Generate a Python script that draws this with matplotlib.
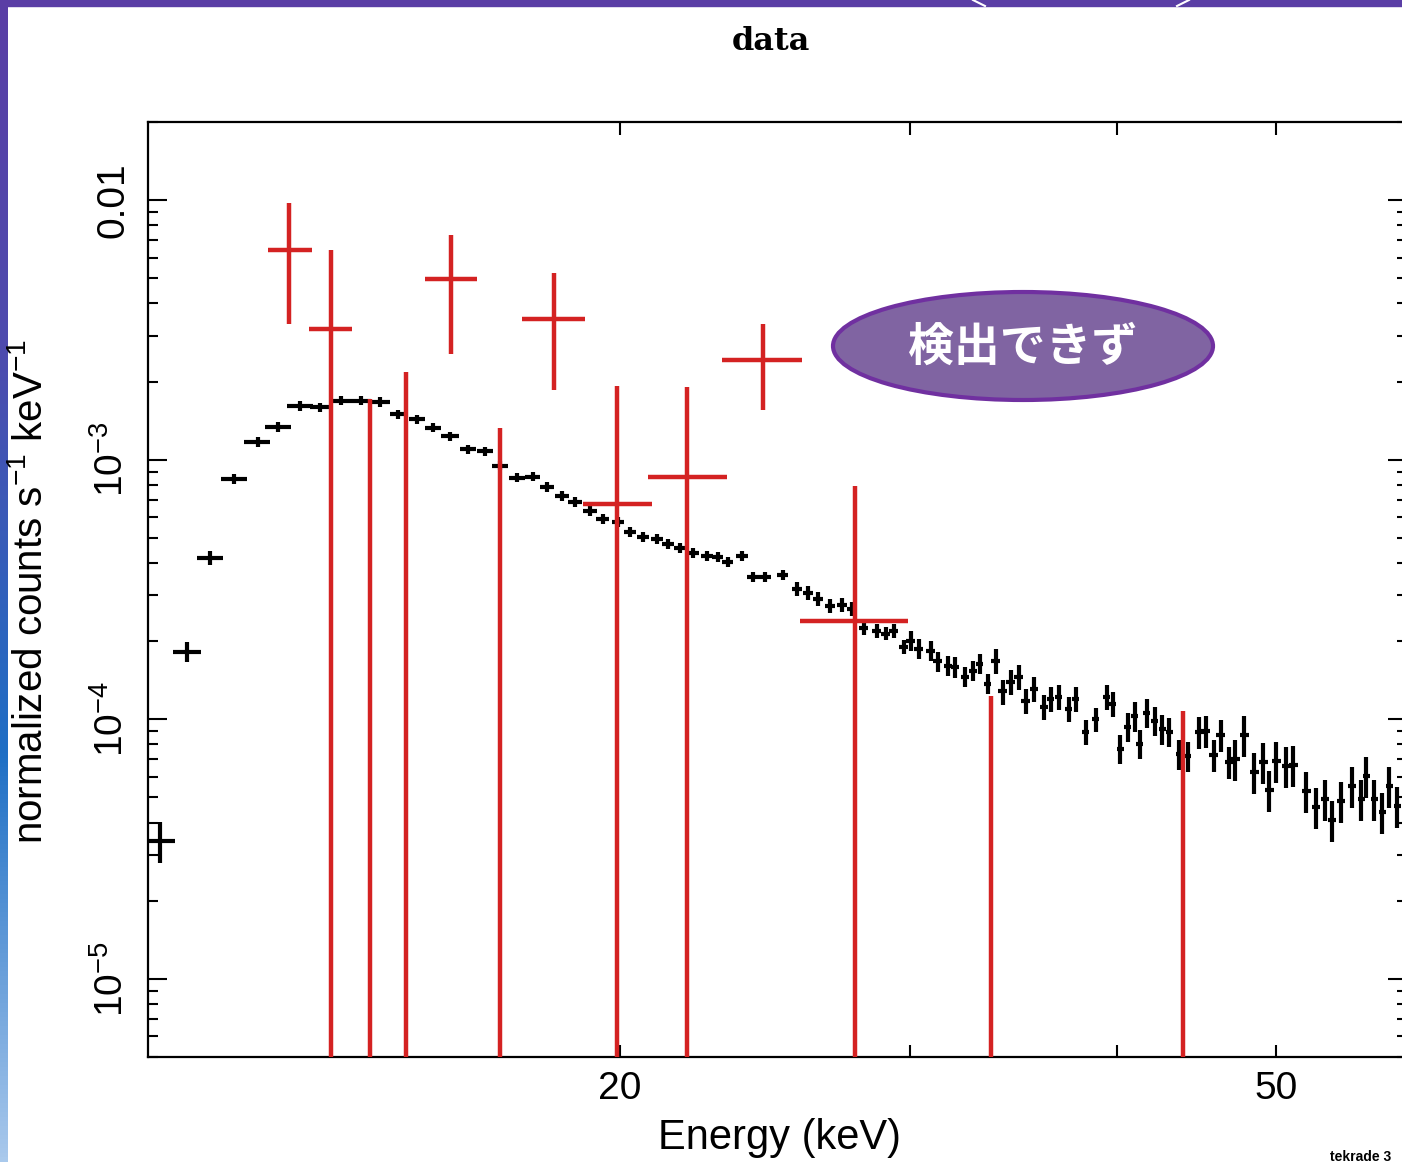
import numpy as np
import matplotlib
matplotlib.use("Agg")
import matplotlib.pyplot as plt
from matplotlib.patches import Ellipse, Rectangle
from matplotlib.lines import Line2D
from matplotlib.colors import LinearSegmentedColormap
from matplotlib.ticker import FixedLocator, FixedFormatter, LogLocator, NullLocator, NullFormatter

plt.rcParams['font.family'] = ['Liberation Sans', 'Noto Sans CJK JP', 'DejaVu Sans']
plt.rcParams['mathtext.fontset'] = 'custom'
plt.rcParams['mathtext.rm'] = 'Liberation Sans'
plt.rcParams['mathtext.default'] = 'rm'

# --- black spectrum (keV, normalized counts s^-1 keV^-1) ---
e_black = np.array([
    10.53, 10.93, 11.29, 11.67, 12.06, 12.41, 12.80, 13.16, 13.55, 13.94,
    14.31, 14.67, 15.07, 15.41, 15.78, 16.18, 16.57, 16.92, 17.32, 17.71,
    18.06, 18.45, 18.78, 19.18, 19.53, 19.94, 20.28, 20.65, 21.06, 21.38,
    21.75, 22.14, 22.58, 22.93, 23.25, 23.71, 24.08, 24.48, 25.10,
    25.60, 26.00, 26.36, 26.81, 27.26, 27.64, 28.11, 28.62, 28.98, 29.31,
    29.72, 30.01, 30.35, 30.86, 31.16, 31.60, 31.91, 32.36, 32.72, 33.04,
    33.41, 33.79, 34.12, 34.50, 34.89, 35.23, 35.63, 36.13, 36.48, 36.89,
    37.41, 37.78, 38.31, 38.85, 39.45, 39.78, 40.22, 40.62, 41.02, 41.31,
    41.71, 42.18, 42.65, 43.07, 43.67, 44.17, 44.91, 45.29, 45.80, 46.25,
    46.83, 47.22, 47.82, 48.49, 49.10, 49.52, 50.00, 50.71, 51.20, 52.14,
    52.87, 53.54, 54.06, 54.75, 55.59, 56.30, 56.69, 57.32, 57.97, 58.54,
    59.19])
c_black = np.array([
    3.40e-5, 1.82e-4, 4.19e-4, 8.45e-4, 1.17e-3, 1.34e-3, 1.61e-3, 1.59e-3, 1.69e-3, 1.69e-3,
    1.67e-3, 1.50e-3, 1.43e-3, 1.33e-3, 1.23e-3, 1.10e-3, 1.08e-3, 9.48e-4, 8.52e-4, 8.60e-4,
    7.87e-4, 7.27e-4, 6.89e-4, 6.36e-4, 5.92e-4, 5.77e-4, 5.28e-4, 5.05e-4, 4.96e-4, 4.75e-4,
    4.58e-4, 4.38e-4, 4.27e-4, 4.23e-4, 4.05e-4, 4.27e-4, 3.54e-4, 3.54e-4, 3.60e-4,
    3.18e-4, 3.07e-4, 2.91e-4, 2.74e-4, 2.76e-4, 2.67e-4, 2.25e-4, 2.19e-4, 2.14e-4, 2.19e-4,
    1.90e-4, 2.01e-4, 1.87e-4, 1.84e-4, 1.67e-4, 1.61e-4, 1.59e-4, 1.46e-4, 1.54e-4, 1.64e-4,
    1.37e-4, 1.68e-4, 1.28e-4, 1.39e-4, 1.46e-4, 1.18e-4, 1.31e-4, 1.12e-4, 1.20e-4, 1.22e-4,
    1.10e-4, 1.20e-4, 8.95e-5, 1.00e-4, 1.22e-4, 1.15e-4, 7.70e-5, 9.36e-5, 1.03e-4, 8.05e-5,
    1.06e-4, 9.87e-5, 9.19e-5, 8.95e-5, 7.36e-5, 7.23e-5, 8.95e-5, 9.03e-5, 7.30e-5, 8.72e-5,
    6.86e-5, 7.04e-5, 8.72e-5, 6.28e-5, 6.86e-5, 5.35e-5, 6.92e-5, 6.62e-5, 6.68e-5, 5.30e-5,
    4.60e-5, 4.94e-5, 4.10e-5, 4.85e-5, 5.54e-5, 4.94e-5, 6.06e-5, 4.94e-5, 4.40e-5, 5.54e-5,
    4.64e-5])
# half bin widths (keV)
w_black = np.array([
    0.22, 0.21, 0.20, 0.21, 0.22, 0.22, 0.23, 0.19, 0.19, 0.19,
    0.20, 0.17, 0.17, 0.17, 0.19, 0.19, 0.18, 0.19, 0.19, 0.19,
    0.18, 0.18, 0.18, 0.18, 0.18, 0.17, 0.18, 0.18, 0.18, 0.18,
    0.18, 0.18, 0.18, 0.18, 0.18, 0.20, 0.20, 0.20, 0.20,
    0.18, 0.18, 0.18, 0.18, 0.18, 0.18, 0.18, 0.18, 0.18, 0.18,
    0.18, 0.18, 0.18, 0.18, 0.18, 0.18, 0.18, 0.18, 0.18, 0.18,
    0.18, 0.20, 0.20, 0.20, 0.20, 0.20, 0.20, 0.20, 0.20, 0.20,
    0.20, 0.20, 0.20, 0.20, 0.20, 0.20, 0.22, 0.22, 0.22, 0.22,
    0.22, 0.22, 0.22, 0.22, 0.22, 0.22, 0.30, 0.30, 0.30, 0.30,
    0.30, 0.30, 0.30, 0.30, 0.30, 0.30, 0.30, 0.30, 0.30, 0.30,
    0.30, 0.30, 0.30, 0.30, 0.30, 0.30, 0.30, 0.30, 0.30, 0.30,
    0.30])
# relative 1-sigma errors
r_black = np.array([
    0.18, 0.09, 0.06, 0.045, 0.045, 0.045, 0.045, 0.04, 0.04, 0.04,
    0.04, 0.04, 0.04, 0.04, 0.04, 0.04, 0.04, 0.04, 0.04, 0.04,
    0.045, 0.045, 0.045, 0.045, 0.045, 0.045, 0.045, 0.045, 0.045, 0.045,
    0.045, 0.045, 0.045, 0.045, 0.045, 0.045, 0.045, 0.045, 0.045,
    0.06, 0.06, 0.06, 0.06, 0.06, 0.06, 0.06, 0.06, 0.06, 0.06,
    0.06, 0.09, 0.09, 0.09, 0.09, 0.09, 0.09, 0.09, 0.09, 0.09,
    0.09, 0.11, 0.11, 0.11, 0.11, 0.11, 0.11, 0.11, 0.11, 0.11,
    0.11, 0.11, 0.11, 0.11, 0.11, 0.11, 0.13, 0.13, 0.13, 0.13,
    0.13, 0.13, 0.13, 0.13, 0.13, 0.13, 0.14, 0.14, 0.14, 0.14,
    0.14, 0.18, 0.18, 0.18, 0.18, 0.18, 0.18, 0.18, 0.18, 0.18,
    0.18, 0.18, 0.18, 0.18, 0.18, 0.18, 0.18, 0.18, 0.18, 0.18,
    0.18])

# --- red spectrum: bin edges, value, lower/upper bound ---
e_red = np.array([12.61, 13.37, 14.11, 14.84, 15.80, 16.92, 18.24, 19.92, 21.96, 24.41, 27.75, 33.56, 43.92])
e_red_lo = np.array([12.23, 12.95, 13.76, 14.47, 15.24, 16.38, 17.45, 18.99, 20.80, 23.06, 25.71, 29.89, 37.50])
e_red_hi = np.array([13.02, 13.76, 14.47, 15.24, 16.38, 17.45, 19.05, 20.91, 23.22, 25.78, 29.89, 37.50, 50.00])
c_red = np.array([6.42e-3, 3.18e-3, 2e-6, 2e-6, 4.98e-3, 2e-6, 3.49e-3, 6.77e-4, 8.60e-4, 2.43e-3, 2.40e-4, 2e-6, 2e-6])
c_red_lo = np.array([3.34e-3, 1e-7, 1e-7, 1e-7, 2.56e-3, 1e-7, 1.85e-3, 1e-7, 1e-7, 1.55e-3, 1e-7, 1e-7, 1e-7])
c_red_hi = np.array([9.74e-3, 6.42e-3, 1.72e-3, 2.18e-3, 7.36e-3, 1.32e-3, 5.25e-3, 1.93e-3, 1.91e-3, 3.34e-3, 7.94e-4, 1.23e-4, 1.08e-4])

W, H = 1402, 1162
fig = plt.figure(figsize=(W / 100, H / 100), dpi=100)
ax = fig.add_axes([148 / W, 105 / H, 1259 / W, 935 / H])
ax.set_xscale('log')
ax.set_yscale('log')

ax.errorbar(e_black, c_black, xerr=w_black, yerr=c_black * r_black,
            fmt='none', ecolor='black', elinewidth=3.0, capsize=0, zorder=2)
ax.errorbar(e_red, c_red, xerr=[e_red - e_red_lo, e_red_hi - e_red],
            yerr=[c_red - c_red_lo, c_red_hi - c_red],
            fmt='none', ecolor='#d42222', elinewidth=3.2, capsize=0, zorder=3)

ax.set_xlim(10.35, 60)
ax.set_ylim(5e-6, 2e-2)

ax.xaxis.set_major_locator(FixedLocator([20, 30, 40, 50]))
ax.xaxis.set_major_formatter(FixedFormatter(['20', '', '', '50']))
ax.xaxis.set_minor_locator(NullLocator())
ax.yaxis.set_major_locator(FixedLocator([1e-5, 1e-4, 1e-3, 1e-2]))
ax.yaxis.set_major_formatter(FixedFormatter([r'$10^{-5}$', r'$10^{-4}$', r'$10^{-3}$', '0.01']))
ax.yaxis.set_minor_locator(LogLocator(base=10, subs=np.arange(2, 10), numticks=20))
ax.yaxis.set_minor_formatter(NullFormatter())

ax.tick_params(which='both', direction='in', top=True, right=True, width=1.5, colors='black')
ax.tick_params(axis='x', which='major', length=9, labelsize=28, pad=10)
ax.tick_params(axis='y', which='major', length=14, labelsize=28, pad=12, labelrotation=90)
ax.tick_params(axis='y', which='minor', length=7)
for lbl in ax.get_yticklabels():
    lbl.set_va('center')
for s in ax.spines.values():
    s.set_linewidth(1.6)

fig.text(31 / W, 1 - 591 / H, r'normalized counts s$^{-1}$ keV$^{-1}$', rotation=90,
         fontsize=29, ha='center', va='center')
fig.text(779 / W, 1 - 1138 / H, 'Energy (keV)', fontsize=30, ha='center', va='center')
fig.text(771 / W, 1 - 41 / H, 'data', fontfamily='DejaVu Serif', fontweight='bold',
         fontsize=23, ha='center', va='center')
fig.text(1330 / W, 1 - 1157 / H, 'tekrade 3', fontsize=10, fontweight='bold', ha='left', va='center')

# --- callout ---
fig.add_artist(Ellipse((1023 / W, 1 - 346 / H), 380 / W, 108 / H, transform=fig.transFigure,
                       facecolor='#8064a2', edgecolor='#7030a0', lw=3, zorder=10))
fig.text(1023 / W, 1 - 348 / H, '検出できず', color='white', fontsize=33, fontweight='bold',
         fontfamily=['Noto Sans CJK JP'], ha='center', va='center', zorder=11)

# --- slide frame ---
fig.add_artist(Rectangle((0, 1 - 6 / H), 1, 6 / H, transform=fig.transFigure,
                         color='#5a3ea5', zorder=20))
fig.add_artist(Line2D([973 / W, 985 / W], [1, 1 - 6 / H], transform=fig.transFigure,
                      color='white', lw=1.5, zorder=21))
fig.add_artist(Line2D([1189 / W, 1177 / W], [1, 1 - 6 / H], transform=fig.transFigure,
                      color='white', lw=1.5, zorder=21))
cmap = LinearSegmentedColormap.from_list('frame', [(0, '#5a3ea5'), (0.3, '#4d4bae'),
                                                   (0.65, '#1f6fc5'), (1, '#a9c9ec')])
gax = fig.add_axes([0, 0, 8 / W, 1])
gax.imshow(np.linspace(0, 1, 256).reshape(-1, 1), aspect='auto', cmap=cmap,
           extent=[0, 1, 0, 1], origin='upper')
gax.axis('off')

fig.savefig('out.png', dpi=100)
